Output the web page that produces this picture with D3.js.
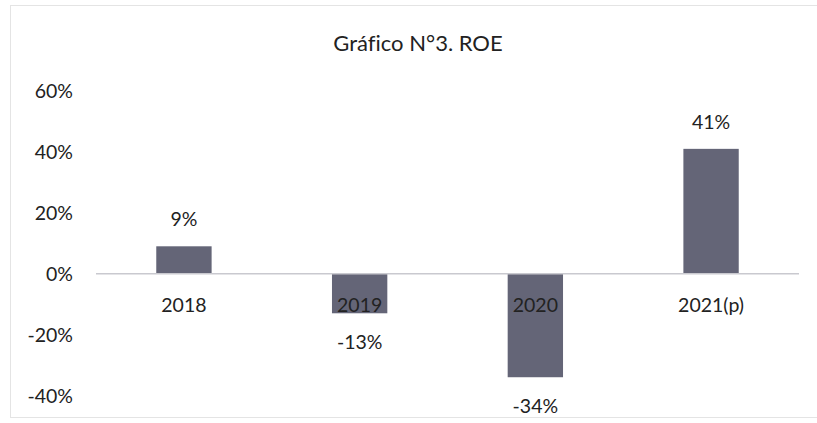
<!DOCTYPE html>
<html>
<head>
  <meta charset="utf-8">
  <script src="https://d3js.org/d3.v7.min.js"></script>
  <style>
    body { margin: 0; background: #fff; }
    text { font-family: Lato, "Open Sans", sans-serif; fill: #222; font-variant-ligatures: none; }
  </style>
</head>
<body>
  <svg width="817" height="423"></svg>
  <script>
    // chart data
    const categories = ['2018', '2019', '2020', '2021(p)'];
    const roe = [0.09, -0.13, -0.34, 0.41];
    const labels = ['9%', '-13%', '-34%', '41%'];
    const yTicks = [-0.4, -0.2, 0, 0.2, 0.4, 0.6];

    const data = categories.map((c, i) => ({cat: c, val: roe[i], label: labels[i]}));

    const svg = d3.select('svg');

    // faint frame from the scan
    svg.append('rect')
      .attr('x', 10.5).attr('y', 5.5)
      .attr('width', 820).attr('height', 412)
      .attr('fill', 'none')
      .attr('stroke', '#e4e4e4');

    const x = d3.scaleBand()
      .domain(categories)
      .range([96, 799])
      .paddingInner(0.685)
      .paddingOuter(0.343);

    const y = d3.scaleLinear()
      .domain([-0.4, 0.6])
      .range([395.5, 91]);

    const pct = d => d3.format('.0%')(d).replace('\u2212', '-');

    // y tick labels (no axis line)
    svg.append('g')
      .selectAll('text')
      .data(yTicks)
      .enter()
      .append('text')
      .attr('x', 73)
      .attr('y', d => y(d))
      .attr('dy', '0.36em')
      .attr('text-anchor', 'end')
      .style('font-size', '19.5px')
      .text(pct);

    // bars
    svg.selectAll('.bar')
      .data(data)
      .enter()
      .append('rect')
      .attr('class', 'bar')
      .attr('x', d => x(d.cat))
      .attr('y', d => y(Math.max(0, d.val)))
      .attr('width', x.bandwidth())
      .attr('height', d => Math.abs(y(d.val) - y(0)))
      .attr('fill', '#646577');

    // zero line
    svg.append('line')
      .attr('x1', 96).attr('x2', 799)
      .attr('y1', y(0)).attr('y2', y(0))
      .attr('stroke', '#c9c9cf')
      .attr('stroke-width', 1.5);

    // category labels just under the zero line
    svg.append('g')
      .selectAll('text')
      .data(data)
      .enter()
      .append('text')
      .attr('x', d => x(d.cat) + x.bandwidth() / 2)
      .attr('y', y(0) + 38)
      .attr('text-anchor', 'middle')
      .style('font-size', '19.5px')
      .text(d => d.cat);

    // value labels
    svg.append('g')
      .selectAll('text')
      .data(data)
      .enter()
      .append('text')
      .attr('x', d => x(d.cat) + x.bandwidth() / 2)
      .attr('y', d => d.val >= 0 ? y(d.val) - 20 : y(d.val) + 36)
      .attr('text-anchor', 'middle')
      .style('font-size', '19.5px')
      .text(d => d.label);

    // title
    svg.append('text')
      .attr('x', 418)
      .attr('y', 51)
      .attr('text-anchor', 'middle')
      .style('font-size', '22px')
      .text('Gráfico N°3. ROE');
  </script>
</body>
</html>
